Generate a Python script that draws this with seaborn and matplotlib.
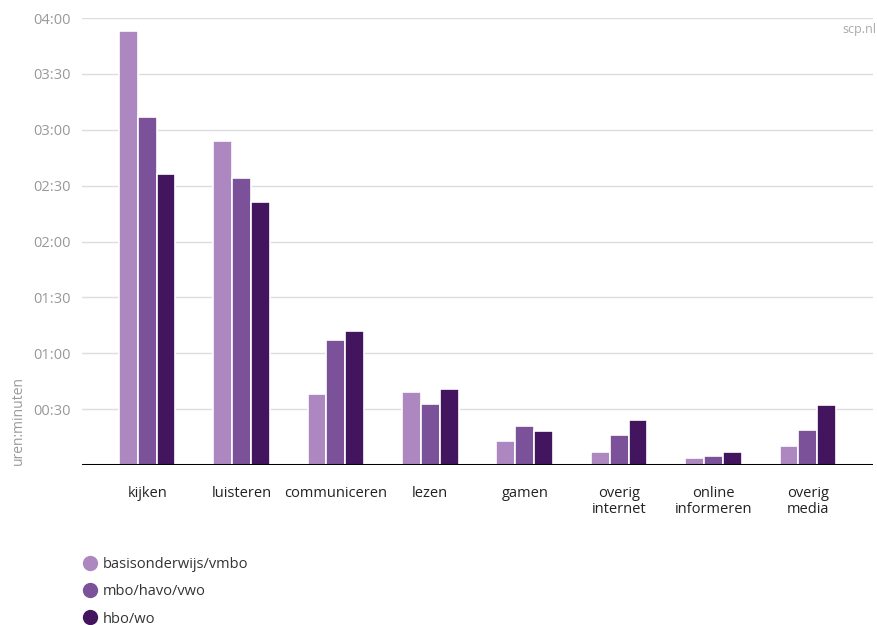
import matplotlib
matplotlib.use("Agg")
import matplotlib.pyplot as plt
from matplotlib.ticker import FuncFormatter, MultipleLocator
from matplotlib.lines import Line2D
import seaborn as sns
import pandas as pd

# data: minutes per day
categories = ["kijken", "luisteren", "communiceren", "lezen", "gamen",
              "overig\ninternet", "online\ninformeren", "overig\nmedia"]
groups = ["basisonderwijs/vmbo", "mbo/havo/vwo", "hbo/wo"]
basis = [233, 174, 38, 39, 13, 7, 4, 10]
mbo = [187, 154, 67, 33, 21, 16, 5, 19]
hbo = [156, 141, 72, 41, 18, 24, 7, 32]
colors = ["#ac87c0", "#7b5299", "#42155e"]

df = pd.DataFrame({
    "cat": categories * 3,
    "groep": [g for g in groups for _ in categories],
    "min": basis + mbo + hbo,
})

sns.set_style("white")
plt.rcParams["font.family"] = ["Open Sans", "DejaVu Sans"]

fig = plt.figure(figsize=(8.77, 6.25), dpi=100)
ax = fig.add_axes([82 / 877, 1 - 465 / 625, (873 - 82) / 877, (465 - 18) / 625])

sns.barplot(data=df, x="cat", y="min", hue="groep", palette=colors,
            width=0.6, saturation=1, edgecolor="white", linewidth=1.2,
            legend=False, ax=ax)

ax.set_ylim(0, 240)
ax.set_xlim(-0.69, 7.69)
ax.yaxis.set_major_locator(MultipleLocator(30))
ax.yaxis.set_major_formatter(FuncFormatter(lambda v, p: "" if v == 0 else f"{int(v)//60:02d}:{int(v)%60:02d}"))
ax.grid(axis="y", color="#dddddd", linewidth=1)
ax.set_axisbelow(True)
ax.axhline(0, color="black", linewidth=2.2, zorder=5)
for s in ax.spines.values():
    s.set_visible(False)
ax.tick_params(axis="y", length=0, pad=8, labelsize=10.5, labelcolor="#999999")
ax.tick_params(axis="x", length=0, pad=15, labelsize=10.5, labelcolor="#222222")
for lbl in ax.get_xticklabels():
    lbl.set_linespacing(1.1)
ax.set_xlabel("")
ax.set_ylabel("")

fig.text(18 / 877, 1 - 465 / 625, "uren:minuten", rotation=90, ha="center", va="bottom",
         fontsize=10, color="#999999")
fig.text(876 / 877, 1 - 30 / 625, "scp.nl", ha="right", va="center", fontsize=9, color="#aaaaaa")

handles = [Line2D([], [], marker="o", linestyle="", markersize=10, color=c) for c in colors]
fig.legend(handles, groups, loc="upper left", bbox_to_anchor=(72 / 877, 1 - 548 / 625),
           frameon=False, fontsize=10.5, labelcolor="#333333", handletextpad=0.3,
           labelspacing=0.85, handlelength=1.2, borderaxespad=0.2)

fig.savefig("out.png", dpi=100)
